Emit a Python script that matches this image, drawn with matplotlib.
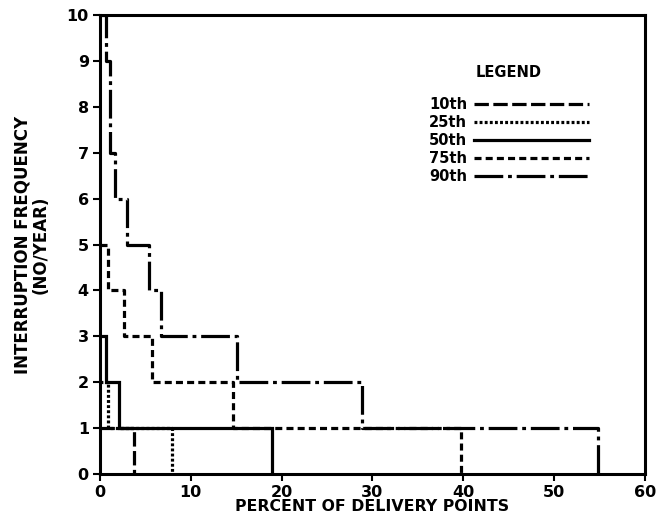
import matplotlib
matplotlib.use("Agg")
import matplotlib.pyplot as plt

plt.rcParams['font.family'] = ['DejaVu Sans']
plt.rcParams['font.weight'] = 'bold'

# percent of delivery points for each frequency band (band k spans k..k+1 interruptions)
pct_10th = [3.7]
pct_25th = [7.9, 0.9]
pct_50th = [18.9, 2.1, 0.65]
pct_75th = [39.8, 14.7, 5.7, 2.65, 0.85]
pct_90th = [54.8, 28.8, 15.1, 6.75, 5.35, 3.0, 1.65, 1.15, 1.15, 0.7]

labels = ['10th', '25th', '50th', '75th', '90th']
series = [pct_10th, pct_25th, pct_50th, pct_75th, pct_90th]
styles = [(0, (4.5, 1.4)),
          (0, (0.9, 0.7)),
          '-',
          (0, (2.2, 1.3)),
          (0, (9, 1.5, 1.2, 1.5))]


def step_path(vals):
    n = len(vals)
    xs, ys = [0.0], [float(n)]
    for k in range(n - 1, -1, -1):
        xs += [vals[k], vals[k]]
        ys += [k + 1, k]
    return xs, ys


fig = plt.figure(figsize=(6.56, 5.23), dpi=100)
ax = fig.add_axes([0.1524, 0.0937, 0.8306, 0.8773])

for vals, lab, ls in zip(series, labels, styles):
    xs, ys = step_path(vals)
    ax.plot(xs, ys, color='black', lw=2.3, ls=ls, label=lab,
            solid_joinstyle='miter', dash_capstyle='butt')

ax.set_xlim(0, 60)
ax.set_ylim(0, 10)
ax.set_xticks(range(0, 61, 10))
ax.set_yticks(range(0, 11))
for s in ax.spines.values():
    s.set_linewidth(2.2)
ax.tick_params(axis='both', length=5, width=1.5, labelsize=11.5, pad=3)

ax.set_xlabel('PERCENT OF DELIVERY POINTS', fontsize=11.3, fontweight='bold', labelpad=-1)
ax.set_ylabel('INTERRUPTION FREQUENCY\n(NO/YEAR)', fontsize=12, fontweight='bold',
              labelpad=12, linespacing=1.05)

leg = ax.legend(title='LEGEND', frameon=False, markerfirst=False,
                handlelength=7.9, handletextpad=0.45, labelspacing=0.22,
                prop={'size': 10.5, 'weight': 'bold'},
                loc='upper left', bbox_to_anchor=(0.58, 0.92))
leg.get_title().set_fontsize(10.5)
leg.get_title().set_fontweight('bold')
leg._legend_box.sep = 12

fig.savefig('out.png', dpi=100)
